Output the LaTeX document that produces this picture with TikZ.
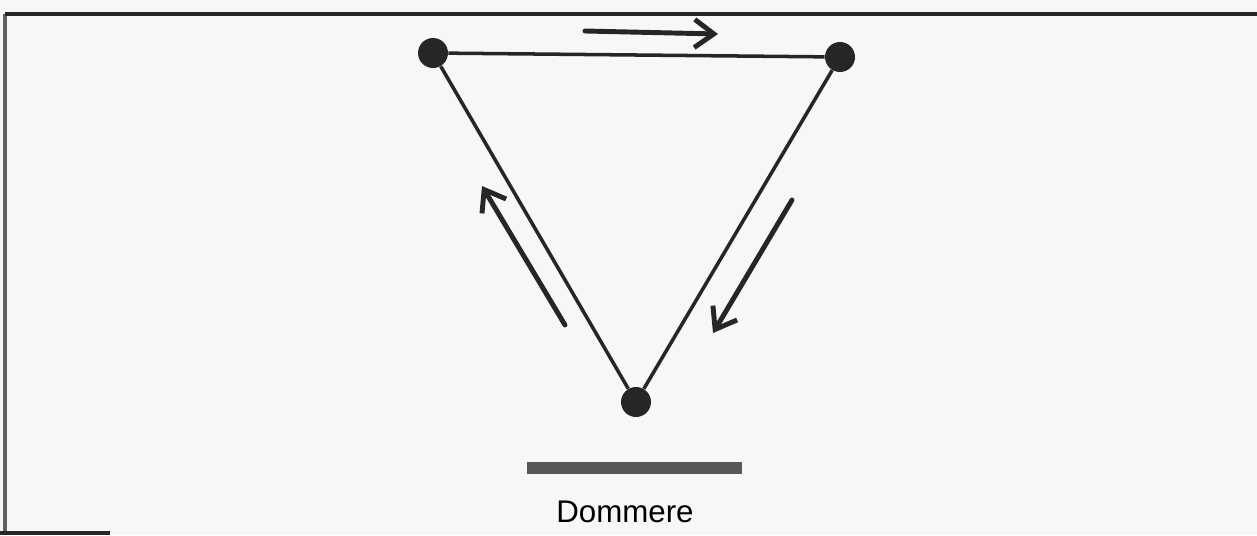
\documentclass[tikz,border=0pt]{standalone}
\usepackage{fontspec}
\setmainfont{Liberation Sans}
\usetikzlibrary{arrows.meta}
\usepackage{xcolor}
\definecolor{paper}{RGB}{247,247,247}
\definecolor{ink}{RGB}{38,38,38}
\definecolor{bench}{RGB}{88,88,88}

\begin{document}
\begin{tikzpicture}[x=0.02cm, y=-0.02cm,
  vertex/.style={circle, fill=ink, inner sep=0pt, minimum size=0.6cm},
  side/.style={ink, line width=2pt},
  flow/.style={ink, line width=2.8pt, line cap=round,
    -{Straight Barb[length=11pt, width=16pt]}}]
  \useasboundingbox (0,0) rectangle (1257,535);

  %% Paper and frame
  \fill[paper] (0,0) rectangle (1257,535);
  \draw[gray!75!black, line width=2.8pt] (5,14) -- (5,535);
  \draw[ink, line width=1.8pt] (5,14) -- (1257,14);
  \draw[ink, line width=1.8pt] (0,533) -- (110,533);

  %% Triangle of players
  \node[vertex] (tl) at (433,53) {};
  \node[vertex] (tr) at (840,57) {};
  \node[vertex] (bt) at (636,402) {};
  \draw[side] (tl) -- (tr);
  \draw[side] (tr) -- (bt);
  \draw[side] (bt) -- (tl);

  %% Direction of play
  \coordinate (topA) at (585,31);
  \coordinate (topB) at (718,34);
  \coordinate (rightA) at (792,200);
  \coordinate (rightB) at (713,333);
  \coordinate (leftA) at (565,325);
  \coordinate (leftB) at (482,186);
  \draw[flow] (topA) -- (topB);
  \draw[flow] (rightA) -- (rightB);
  \draw[flow] (leftA) -- (leftB);

  %% Judges bench
  \coordinate (benchL) at (527,468);
  \coordinate (benchR) at (742,468);
  \draw[bench, line width=6.8pt] (benchL) -- (benchR);
  \node[font=\fontsize{17.8}{20}\selectfont, anchor=base, inner sep=0pt] (judges)
    at (625,522) {Dommere};
\end{tikzpicture}
\end{document}
